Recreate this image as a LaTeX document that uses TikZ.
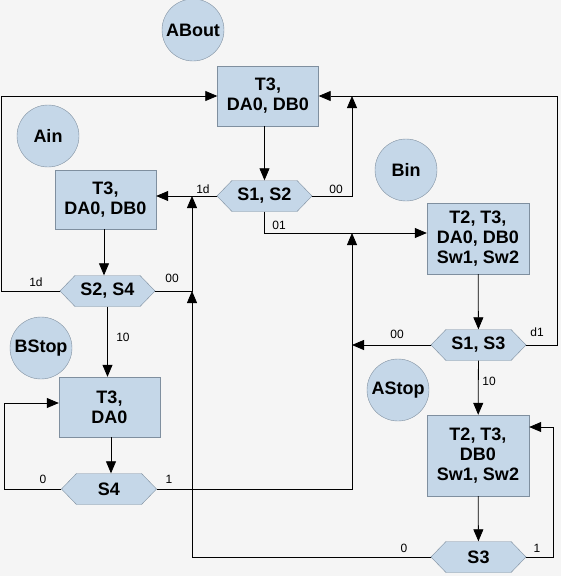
\documentclass[tikz,border=0pt]{standalone}
\usepackage{fontspec}
\setmainfont{Liberation Sans}
\usetikzlibrary{arrows.meta,shapes.symbols}
\definecolor{bgcol}{HTML}{F5F5F5}
\definecolor{statefill}{HTML}{C5D7E8}
\definecolor{stateline}{HTML}{7F8F9F}
\begin{document}
\begin{tikzpicture}[x=1pt,y=1pt,
    statebox/.style={draw=stateline, fill=statefill, minimum width=101pt,
      align=center, font=\fontsize{18}{20}\selectfont\bfseries},
    testhex/.style={draw=stateline, fill=statefill, signal, signal to=west and east,
      signal pointer angle=92, minimum width=95pt, minimum height=31pt, inner sep=0pt,
      font=\fontsize{18}{20}\selectfont\bfseries},
    namecirc/.style={circle, draw=stateline, fill=statefill, minimum size=62pt,
      inner sep=0pt, font=\fontsize{18}{20}\selectfont\bfseries},
    lbl/.style={font=\fontsize{12}{14}\selectfont, inner sep=0pt},
    arc/.style={-{Triangle[length=12pt,width=10pt]}, line width=0.8pt}]
      \useasboundingbox (0,0) rectangle (561,-576);
      \fill[bgcol] (0,0) rectangle (561,-576);

      % Circles
      \node[namecirc] (about) at (193,-30) {ABout};
      \node[namecirc] (ain) at (48,-136) {Ain};
      \node[namecirc] (bin) at (406,-170) {Bin};
      \node[namecirc] (bstop) at (41,-348) {BStop};
      \node[namecirc] (astop) at (398,-390) {AStop};

      % Boxes
      \node[statebox, minimum height=60pt] (top) at (268,-96) {T3,\\DA0, DB0};
      \node[statebox, minimum height=59pt] (left) at (105.5,-199.5) {T3,\\DA0, DB0};
      \node[statebox, minimum height=60pt] (da0) at (109.5,-407) {T3,\\DA0};
      \node[statebox, minimum width=102pt, minimum height=71pt] (rone) at (478,-238.5)
        {T2, T3,\\DA0, DB0\\Sw1, Sw2};
      \node[statebox, minimum width=102pt, minimum height=81pt] (rtwo) at (478,-455.5)
        {T2, T3,\\DB0\\Sw1, Sw2};

      % Tests
      \node[testhex] (s12) at (264.5,-196) {S1, S2};
      \node[testhex] (s24) at (107.5,-291) {S2, S4};
      \node[testhex] (s13) at (478.5,-345) {S1, S3};
      \node[testhex] (s4) at (109,-489) {S4};
      \node[testhex] (s3) at (478.5,-557) {S3};

      % Bends
      \coordinate (j01) at (352,-233);
      \coordinate (jtop) at (352,-96);
      \coordinate (jleft) at (192,-196);
      \coordinate (jmid) at (192,-291);

      % Labels
      \node[lbl] (l12a) at (203,-189) {1d};
      \node[lbl] (l12b) at (336,-189) {00};
      \node[lbl] (l12c) at (279,-225) {01};
      \node[lbl] (l24a) at (36,-282) {1d};
      \node[lbl] (l24b) at (172,-278) {00};
      \node[lbl] (l24c) at (123,-337) {10};
      \node[lbl] (l4a) at (43,-479) {0};
      \node[lbl] (l4b) at (169,-479) {1};
      \node[lbl] (l13a) at (397,-334) {00};
      \node[lbl] (l13b) at (537,-332) {d1};
      \node[lbl] (l13c) at (489,-381) {10};
      \node[lbl] (l3a) at (404,-548) {0};
      \node[lbl] (l3b) at (537,-548) {1};

      % Arcs (top)
      \draw[arc] (s12.north |- top.south) -- (s12.north);
      \draw[arc] (s12.west) -- (left.east |- s12.west);
      \draw[arc] (s12.east) -| (jtop);
      \draw[arc] (s12.south) |- (rone.west |- j01);

      % Arcs (left)
      \draw[arc] (left.south -| 104,0) -- (s24.north -| 104,0);
      \draw[arc] (s24.west) -- (1.5,-291) -- (1.5,-96) -- (top.west);
      \draw[arc] (s24.east) -| (jleft);
      \draw[arc] (s24.south) -- (s24.south |- da0.north);

      \draw[arc] (da0.south -| 111,0) -- (s4.north -| 111,0);
      \draw[arc] (s4.west) -- (4,-489) -- (4,-403) -- (da0.west |- 0,-403);
      \draw[arc] (s4.east) -| (j01);

      % Arcs (right)
      \draw[arc] (rone) -- (s13);
      \draw[arc] (s13.west) -- (352,-345);
      \draw[arc] (s13.east) -- (557,-345) -- (557,-96) -- (top.east);
      \draw[arc] (s13) -- (rtwo);

      \draw[arc] (rtwo) -- (s3);
      \draw[arc] (s3.west) -| (jmid);
      \draw[arc] (s3.east) -- (553,-557) -- (553,-427) -- (rtwo.east |- 0,-427);
\end{tikzpicture}
\end{document}
